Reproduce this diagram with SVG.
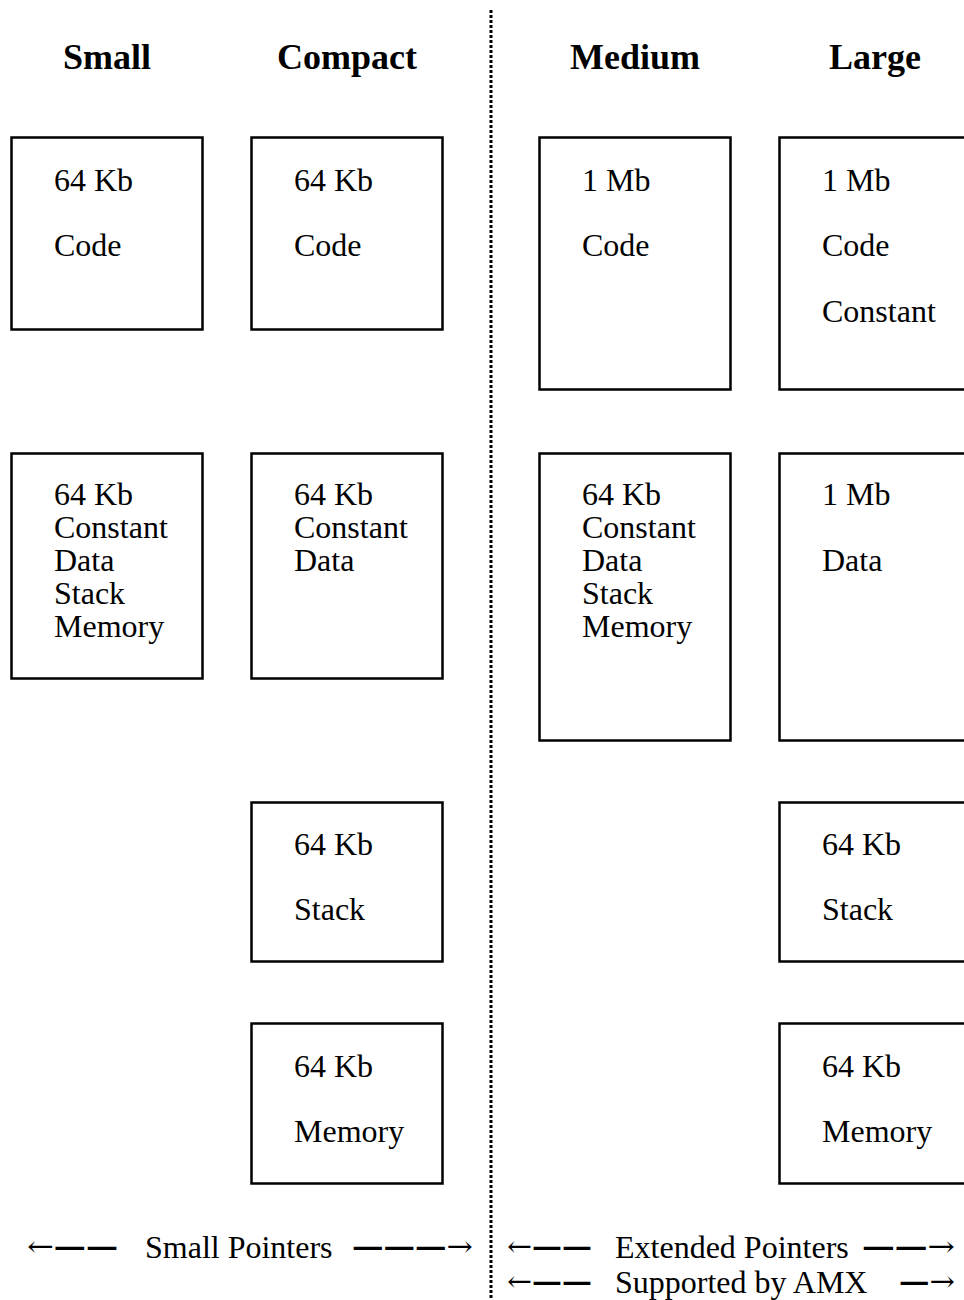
<svg xmlns="http://www.w3.org/2000/svg" width="964" height="1300" viewBox="0 0 964 1300">
<style>
text { font-family: "Liberation Serif", "Times New Roman", serif; fill: #000; }
.h { font-size: 36px; font-weight: bold; text-anchor: middle; }
.t { font-size: 32px; }
.a { font-family: "DejaVu Serif", "Liberation Serif", serif; font-size: 28px; }
.d { font-weight: bold; }
.box { fill: #fff; stroke: #000; stroke-width: 2.5; }
.div { stroke: #000; stroke-width: 3; stroke-dasharray: 3 2; }
</style>
<rect width="964" height="1300" fill="#fff"/>
<g id="headers">
<text class="h" x="107" y="69">Small</text>
<text class="h" x="347" y="69">Compact</text>
<text class="h" x="635" y="69">Medium</text>
<text class="h" x="875" y="69">Large</text>
</g>
<g id="connectors">
<line class="div" x1="491" y1="10" x2="491" y2="1300"/>
</g>
<g id="small-code"><rect class="box" x="11.5" y="137.5" width="191" height="192"/>
<text class="t" x="54" y="191">64 Kb</text><text class="t" x="54" y="256">Code</text></g>
<g id="compact-code"><rect class="box" x="251.5" y="137.5" width="191" height="192"/>
<text class="t" x="294" y="191">64 Kb</text><text class="t" x="294" y="256">Code</text></g>
<g id="medium-code"><rect class="box" x="539.5" y="137.5" width="191" height="252"/>
<text class="t" x="582" y="191">1 Mb</text><text class="t" x="582" y="256">Code</text></g>
<g id="large-code"><rect class="box" x="779.5" y="137.5" width="191" height="252"/>
<text class="t" x="822" y="191">1 Mb</text><text class="t" x="822" y="256">Code</text><text class="t" x="822" y="322">Constant</text></g>
<g id="small-data"><rect class="box" x="11.5" y="453.5" width="191" height="225"/>
<text class="t" x="54" y="505">64 Kb</text><text class="t" x="54" y="538">Constant</text><text class="t" x="54" y="571">Data</text><text class="t" x="54" y="604">Stack</text><text class="t" x="54" y="637">Memory</text></g>
<g id="compact-data"><rect class="box" x="251.5" y="453.5" width="191" height="225"/>
<text class="t" x="294" y="505">64 Kb</text><text class="t" x="294" y="538">Constant</text><text class="t" x="294" y="571">Data</text></g>
<g id="medium-data"><rect class="box" x="539.5" y="453.5" width="191" height="287"/>
<text class="t" x="582" y="505">64 Kb</text><text class="t" x="582" y="538">Constant</text><text class="t" x="582" y="571">Data</text><text class="t" x="582" y="604">Stack</text><text class="t" x="582" y="637">Memory</text></g>
<g id="large-data"><rect class="box" x="779.5" y="453.5" width="191" height="287"/>
<text class="t" x="822" y="505">1 Mb</text><text class="t" x="822" y="571">Data</text></g>
<g id="compact-stack"><rect class="box" x="251.5" y="802.5" width="191" height="159"/>
<text class="t" x="294" y="855">64 Kb</text><text class="t" x="294" y="920">Stack</text></g>
<g id="large-stack"><rect class="box" x="779.5" y="802.5" width="191" height="159"/>
<text class="t" x="822" y="855">64 Kb</text><text class="t" x="822" y="920">Stack</text></g>
<g id="compact-memory"><rect class="box" x="251.5" y="1023.5" width="191" height="160"/>
<text class="t" x="294" y="1077">64 Kb</text><text class="t" x="294" y="1142">Memory</text></g>
<g id="large-memory"><rect class="box" x="779.5" y="1023.5" width="191" height="160"/>
<text class="t" x="822" y="1077">64 Kb</text><text class="t" x="822" y="1142">Memory</text></g>
<g id="legend">
<text class="a" x="27" y="1256" textLength="91" lengthAdjust="spacingAndGlyphs">←<tspan class="d">——</tspan></text>
<text class="t" x="145" y="1258">Small Pointers</text>
<text class="a" x="352" y="1256" textLength="121" lengthAdjust="spacingAndGlyphs"><tspan class="d">———</tspan>→</text>
<text class="a" x="507" y="1256" textLength="85" lengthAdjust="spacingAndGlyphs">←<tspan class="d">——</tspan></text>
<text class="t" x="615" y="1258">Extended Pointers</text>
<text class="a" x="862" y="1256" textLength="93" lengthAdjust="spacingAndGlyphs"><tspan class="d">——</tspan>→</text>
<text class="a" x="507" y="1291" textLength="85" lengthAdjust="spacingAndGlyphs">←<tspan class="d">——</tspan></text>
<text class="t" x="615" y="1293">Supported by AMX</text>
<text class="a" x="899" y="1291" textLength="56" lengthAdjust="spacingAndGlyphs"><tspan class="d">—</tspan>→</text>
</g>
</svg>
